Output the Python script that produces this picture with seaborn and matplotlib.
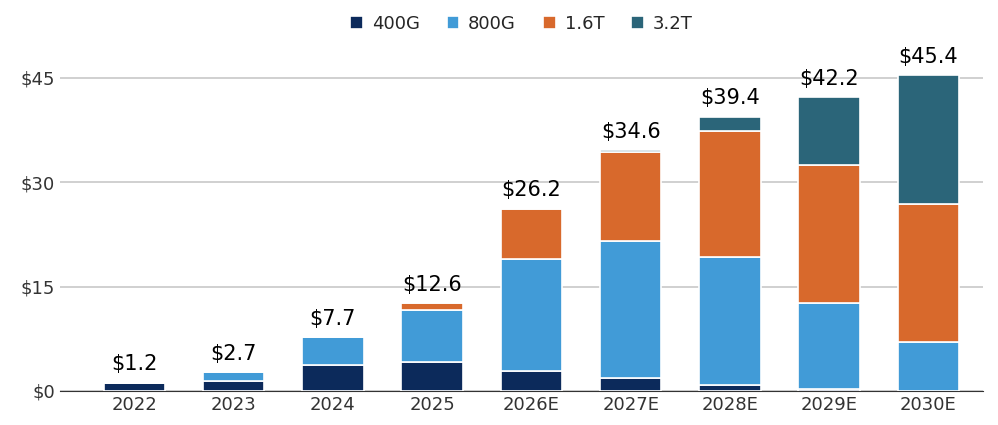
import numpy as np
import matplotlib
matplotlib.use("Agg")
import matplotlib.pyplot as plt
import seaborn as sns

years = ["2022", "2023", "2024", "2025", "2026E", "2027E", "2028E", "2029E", "2030E"]
g400 = [1.2, 1.4, 3.8, 4.1, 2.9, 1.8, 0.8, 0.3, 0.0]
g800 = [0.0, 1.3, 3.9, 7.5, 16.0, 19.7, 18.4, 12.3, 7.1]
t16 = [0.0, 0.0, 0.0, 1.0, 7.3, 12.8, 18.2, 19.9, 19.7]
t32 = [0.0, 0.0, 0.0, 0.0, 0.0, 0.3, 2.0, 9.7, 18.6]
totals = ["$1.2", "$2.7", "$7.7", "$12.6", "$26.2", "$34.6", "$39.4", "$42.2", "$45.4"]

series = [("400G", g400, "#0c2a5b"), ("800G", g800, "#419bd7"),
          ("1.6T", t16, "#d8692c"), ("3.2T", t32, "#2b6579")]

sns.set_style("white")
plt.rcParams['font.family'] = ['DejaVu Sans']
fig, ax = plt.subplots(figsize=(9.98, 4.25), dpi=100)

x = np.arange(len(years))
bottom = np.zeros(len(years))
for name, vals, col in series:
    vals = np.array(vals)
    ax.bar(x, vals, bottom=bottom, width=0.62, color=col, label=name,
           edgecolor="white", linewidth=1.2, zorder=3)
    bottom += vals

for xi, top, lab in zip(x, bottom, totals):
    ax.text(xi, top + 1.2, lab, ha="center", va="bottom", fontsize=15, color="black")

ax.set_ylim(0, 47)
ax.set_yticks([0, 15, 30, 45])
ax.set_yticklabels(["$0", "$15", "$30", "$45"], fontsize=13, color="#333333")
ax.set_xticks(x)
ax.set_xticklabels(years, fontsize=13, color="#333333")
ax.set_xlim(-0.75, len(years) - 0.45)
ax.yaxis.grid(True, color="#c8c8c8", linewidth=1.2, zorder=0)
for s in ["left", "right", "top"]:
    ax.spines[s].set_visible(False)
ax.spines["bottom"].set_color("#333333")
ax.tick_params(axis="both", length=0)

ax.legend(loc="upper center", bbox_to_anchor=(0.5, 1.2), ncol=4, frameon=False,
          fontsize=13, handlelength=0.7, handleheight=0.7, columnspacing=1.5,
          handletextpad=0.5)

fig.subplots_adjust(left=0.06, right=0.985, top=0.85, bottom=0.08)
fig.savefig("out.png", dpi=100)
